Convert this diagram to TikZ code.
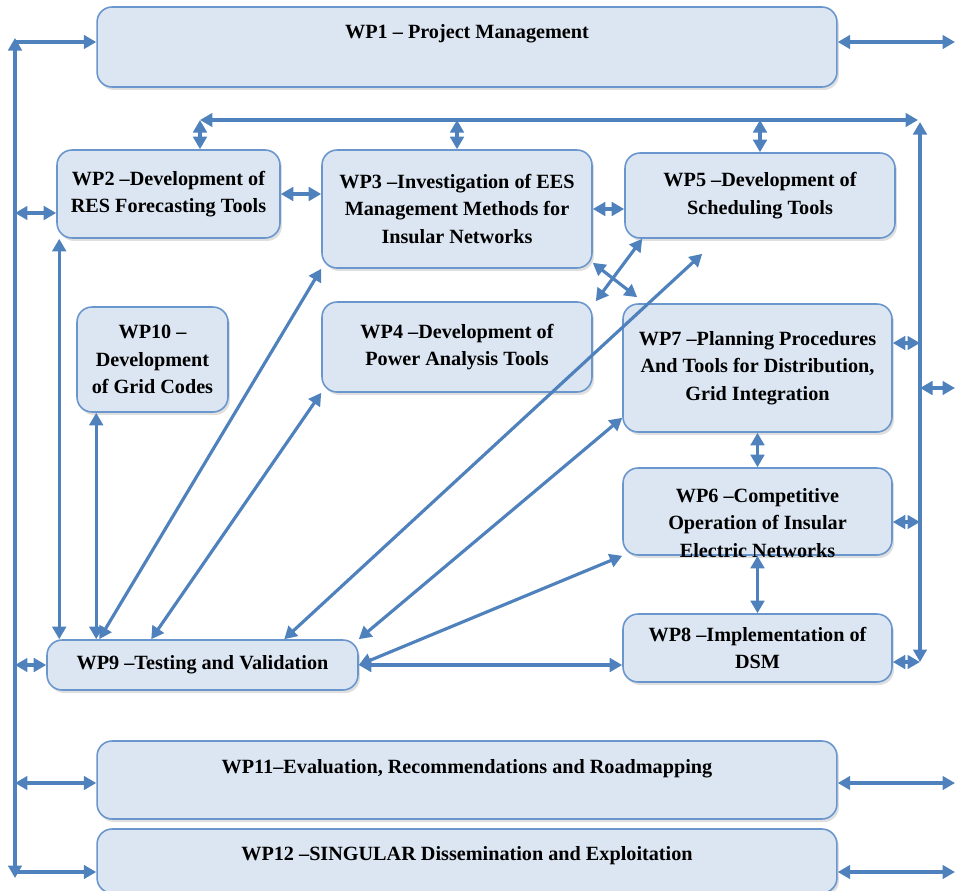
\documentclass[tikz,border=0pt]{standalone}
\usepackage{fontspec}
\setmainfont{Liberation Serif}
\usetikzlibrary{arrows.meta,shadows}

\definecolor{wpline}{RGB}{79,129,189}
\definecolor{wpfill}{RGB}{220,230,242}
\definecolor{wpedge}{RGB}{105,150,205}

\tikzset{
  wpbox/.style={draw=wpedge, line width=0.9pt, fill=wpfill, rounded corners=0.3cm,
    align=center, font=\bfseries\fontsize{11.5}{15.6}\selectfont, inner sep=2pt,
    drop shadow={opacity=0.25, shadow xshift=0.04cm, shadow yshift=-0.06cm}},
  wptext/.style={align=center, font=\bfseries\fontsize{11.5}{15.6}\selectfont},
  link/.style={draw=wpline, line width=1.8pt, <->},
  feed/.style={draw=wpline, line width=1.8pt, ->},
}

\begin{document}
\begin{tikzpicture}[x=0.02cm, y=-0.02cm, >={Triangle[length=0.25cm,width=0.27cm]}]
        \useasboundingbox (0,0) rectangle (957,890);
        % work packages
        \node[wpbox, minimum width=14.8cm, minimum height=1.6cm,
          label={[wptext,yshift=0.26cm]center:{WP1 -- Project Management}}] (wp1) at (467,47) {};
        \node[wpbox, minimum width=4.46cm, minimum height=1.76cm] (wp2) at (168.5,194) {WP2 --Development of\\RES Forecasting Tools};
        \node[wpbox, minimum width=5.4cm, minimum height=2.36cm] (wp3) at (457,209) {WP3 --Investigation of EES\\Management Methods for\\Insular Networks};
        \node[wpbox, minimum width=5.4cm, minimum height=1.7cm] (wp5) at (760,195.5) {WP5 --Development of\\Scheduling Tools};
        \node[wpbox, minimum width=3.02cm, minimum height=2.1cm] (wp10) at (152.5,359.5) {WP10 --\\Development\\of Grid Codes};
        \node[wpbox, minimum width=5.4cm, minimum height=1.8cm] (wp4) at (457,347) {WP4 --Development of\\Power Analysis Tools};
        \node[wpbox, minimum width=5.38cm, minimum height=2.56cm] (wp7) at (757.5,368) {WP7 --Planning Procedures\\And Tools for Distribution,\\Grid Integration};
        \node[wpbox, minimum width=5.38cm, minimum height=1.74cm,
          label={[wptext,yshift=-0.23cm]center:{WP6 --Competitive\\Operation of Insular\\Electric Networks}}] (wp6) at (757.5,511.5) {};
        \node[wpbox, minimum width=5.38cm, minimum height=1.36cm] (wp8) at (757.5,648) {WP8 --Implementation of\\DSM};
        \node[wpbox, minimum width=6.22cm, minimum height=1cm] (wp9) at (202.5,665) {WP9 --Testing and Validation};
        \node[wpbox, minimum width=14.8cm, minimum height=1.56cm,
          label={[wptext,yshift=0.22cm]center:{WP11--Evaluation, Recommendations and Roadmapping}}] (wp11) at (467,780) {};
        \node[wpbox, minimum width=14.8cm, minimum height=1.28cm,
          label={[wptext,yshift=0.1cm]center:{WP12 --SINGULAR Dissemination and Exploitation}}] (wp12) at (467,861) {};

        % bus ends
        \coordinate (lbt) at (15,38);
        \coordinate (lbb) at (15,878);
        \coordinate (tbl) at (200,120);
        \coordinate (tbr) at (918,120);
        \coordinate (rbt) at (920,122);
        \coordinate (rbb) at (920,662);
        \coordinate (redge) at (955,388);

        % left bus
        \draw[link] (lbb) -- (lbt);
        \draw[feed] ([yshift=.1cm]wp1.west -| lbt) -- ([yshift=.1cm]wp1.west);
        \draw[link] ([yshift=-.38cm]wp2.west -| lbt) -- ([yshift=-.38cm]wp2.west);
        \draw[link] (wp9.west -| lbt) -- (wp9.west);
        \draw[link] ([yshift=-.06cm]wp11.west -| lbt) -- ([yshift=-.06cm]wp11.west);
        \draw[feed] ([yshift=-.22cm]wp12.west -| lbt) -- ([yshift=-.22cm]wp12.west);

        % right edge
        \draw[link] ([yshift=.1cm]wp1.east) -- ([yshift=.1cm]wp1.east -| redge);
        \draw[link] ([yshift=-.06cm]wp11.east) -- ([yshift=-.06cm]wp11.east -| redge);
        \draw[link] ([yshift=-.22cm]wp12.east) -- ([yshift=-.22cm]wp12.east -| redge);

        % top and right bus
        \draw[link] (tbl) -- (tbr);
        \draw[link] (rbb) -- (rbt);
        \draw[link] (tbl) -- (tbl |- wp2.north);
        \draw[link] (wp3.north |- tbl) -- (wp3.north);
        \draw[link] (wp5.north |- tbl) -- (wp5.north);
        \draw[link] ([yshift=.5cm]wp7.east) -- ([yshift=.5cm]wp7.east -| rbt);
        \draw[link] ([yshift=-.21cm]wp6.east) -- ([yshift=-.21cm]wp6.east -| rbt);
        \draw[link] ([yshift=-.28cm]wp8.east) -- ([yshift=-.28cm]wp8.east -| rbt);
        \draw[link] (redge -| rbt) -- (redge);

        % between packages
        \draw[link] (wp2.east) -- (wp2.east -| wp3.west);
        \draw[link] (wp3.east) -- (wp3.east -| wp5.west);
        \draw[link] ([yshift=.12cm]wp3.south east) -- ([xshift=.3cm,yshift=.12cm]wp7.north west);
        \draw[link] ([xshift=.36cm]wp5.south west) -- ([xshift=.06cm]wp4.north east);
        \draw[link] (wp7.south) -- (wp6.north);
        \draw[link] (wp6.south) -- (wp8.north);

        % to testing and validation
        \draw[link] ([xshift=.06cm]wp2.south west) -- ([xshift=.06cm]wp2.south west |- wp9.north);
        \draw[link] ([xshift=.4cm]wp10.south west) -- ([xshift=.4cm]wp10.south west |- wp9.north);
        \draw[link] ([xshift=1.06cm]wp9.north west) -- (wp3.south west);
        \draw[link] ([xshift=2.1cm]wp9.north west) -- (wp4.south west);
        \draw[link] ([xshift=4.76cm]wp9.north west) -- ([xshift=1.56cm,yshift=-.3cm]wp5.south west);
        \draw[link] (wp9.north east) -- ([yshift=.3cm]wp7.south west);
        \draw[link] (wp9.east) -- (wp6.south west);
        \draw[link] (wp9.east) -- (wp9.east -| wp8.west);
      \end{tikzpicture}
\end{document}
